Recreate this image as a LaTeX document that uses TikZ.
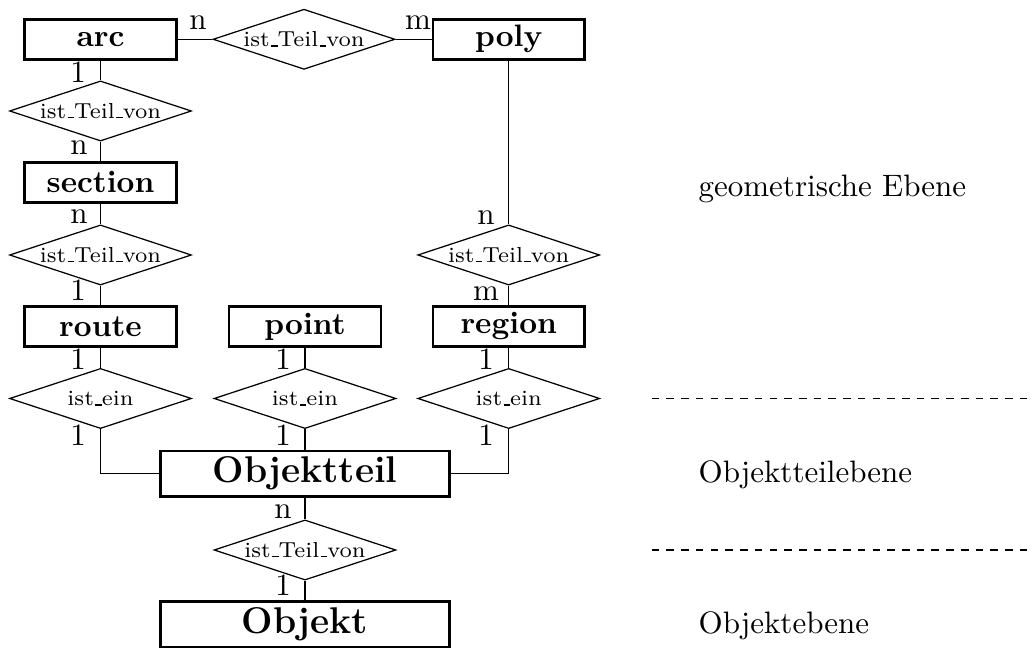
\documentclass[tikz,border=0pt]{standalone}
\usetikzlibrary{shapes.geometric}
% underscore drawn as a short rule on the baseline
\newcommand{\ul}{\leavevmode\kern.06em\vbox{\hrule width.3em}}
\begin{document}
\begin{tikzpicture}[x=0.3226pt,y=-0.3226pt,
  entity/.style={draw,line width=0.8pt,rectangle,inner sep=0pt,
    minimum width=49pt,minimum height=12.9pt,font=\normalsize\bfseries},
  bigentity/.style={draw,line width=0.8pt,rectangle,inner sep=0pt,
    minimum width=93.2pt,minimum height=14.8pt,font=\large\bfseries},
  relation/.style={draw,line width=0.4pt,diamond,aspect=3.03,inner sep=0pt,
    minimum width=58.7pt,minimum height=19.4pt,font=\scriptsize},
  card/.style={inner sep=0pt,anchor=base,font=\normalsize},
  level/.style={inner sep=0pt,anchor=base west,font=\normalsize},
  link/.style={line width=0.4pt},
  sep/.style={line width=0.4pt,dash pattern=on 2.45pt off 2.3pt}]
\useasboundingbox (0,0) rectangle (1034,648);

% geometric level
\node[entity] (arc) at (100.5,39.3) {arc};
\node[relation] (r0) at (304,39.3) {ist\ul Teil\ul von};
\node[entity] (poly) at (508.7,39.3) {poly};
\node[relation] (r1) at (100.5,111) {ist\ul Teil\ul von};
\node[entity] (section) at (100.5,182.4) {section};
\node[relation] (r2) at (100.5,255) {ist\ul Teil\ul von};
\node[relation] (r3) at (508.7,255) {ist\ul Teil\ul von};
\node[entity] (route) at (100.5,326.4) {route};
\node[entity] (point) at (305,326.4) {point};
\node[entity] (region) at (508.7,326.4) {region};

% object part level
\node[relation] (e1) at (100.5,398.5) {ist\ul ein};
\node[relation] (e2) at (305,398.5) {ist\ul ein};
\node[relation] (e3) at (508.7,398.5) {ist\ul ein};
\node[bigentity] (teil) at (305,473.7) {Objektteil};
\node[relation] (r4) at (305,550) {ist\ul Teil\ul von};
\node[bigentity] (obj) at (305,624.2) {Objekt};

% connectors
\draw[link] (arc.east) -- (r0.west);
\draw[link] (r0.east) -- (poly.west);
\draw[link] (arc) -- (r1);
\draw[link] (r1) -- (section);
\draw[link] (section) -- (r2);
\draw[link] (r2) -- (route);
\draw[link] (poly) -- (r3);
\draw[link] (r3) -- (region);
\draw[link] (route) -- (e1);
\draw[link] (point) -- (e2);
\draw[link] (region) -- (e3);
\draw[link] (e1.south) |- (teil.west);
\draw[link] (e2) -- (teil);
\draw[link] (e3.south) |- (teil.east);
\draw[link] (teil) -- (r4);
\draw[link] (r4) -- (obj);

% cardinalities
\node[card] (c0a) at (198,29.5) {n};
\node[card] (c0b) at (418,30) {m};
\node[card] (c1a) at (78,83) {1};
\node[card] (c1b) at (79,155) {n};
\node[card] (c2a) at (79,224) {n};
\node[card] (c2b) at (78,301) {1};
\node[card] (c3a) at (486,225) {n};
\node[card] (c3b) at (486,301) {m};
\node[card] (c4a) at (78,370) {1};
\node[card] (c4b) at (78,446) {1};
\node[card] (c5a) at (283,370) {1};
\node[card] (c5b) at (283,446) {1};
\node[card] (c6a) at (486,370) {1};
\node[card] (c6b) at (486,446) {1};
\node[card] (c7a) at (283,519) {n};
\node[card] (c7b) at (283,596) {1};

% level names and separators
\node[level] (geo) at (698,196.5) {geometrische Ebene};
\node[level] (ote) at (698,482.3) {Objektteilebene};
\node[level] (oe) at (698,633.3) {Objektebene};
\coordinate (s1a) at (651.7,398.3);
\coordinate (s1b) at (1034,398.3);
\coordinate (s2a) at (651.7,550);
\coordinate (s2b) at (1034,550);
\draw[sep] (s1a) -- (s1b);
\draw[sep] (s2a) -- (s2b);
\end{tikzpicture}
\end{document}
